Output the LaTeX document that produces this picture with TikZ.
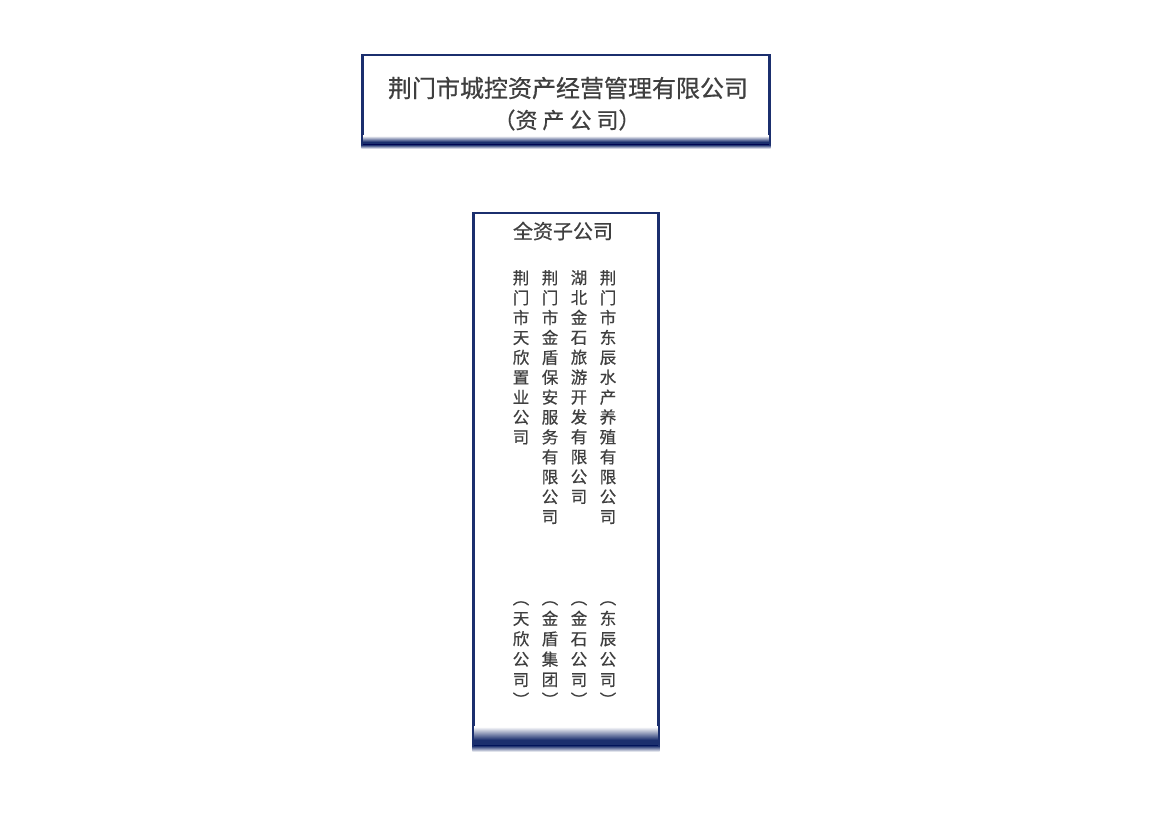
\documentclass[tikz,border=0pt]{standalone}
\usepackage{fontspec}
\newfontfamily\cjk[FakeBold=0.6]{Noto Sans CJK SC}
\usetikzlibrary{calc}
\definecolor{navy}{HTML}{1B2F6E}
\definecolor{txt}{HTML}{3F3F3F}
\tikzset{
  frame/.style={draw=navy, line width=1.6pt, fill=white, inner sep=0pt, rectangle},
  side/.style={draw=navy, line width=1.6pt},
  coltext/.style={font=\cjk\fontsize{16.5}{19.9}\selectfont, align=center, inner sep=0pt, text=txt, anchor=north},
  parcol/.style={coltext, font=\cjk\fontsize{16.5}{20.4}\selectfont},
  titletext/.style={inner sep=0pt, text=txt},
}
\newcommand{\bottomband}[4]{% node, fade-in height, solid height, fade-out height
  \shade[top color=white, bottom color=navy] ($(#1.south west)+(-0.8,-#2)$) rectangle ($(#1.south east)+(0.8,0)$);
  \fill[navy] ($(#1.south west)+(-0.8,0)$) rectangle ($(#1.south east)+(0.8,#3)$);
  \shade[top color=navy, bottom color=white] ($(#1.south west)+(-0.8,#3)$) rectangle ($(#1.south east)+(0.8,#3+#4)$);
  \draw[side] (#1.north west) -- ($(#1.south west)+(0,#3)$);
  \draw[side] (#1.north east) -- ($(#1.south east)+(0,#3)$);
}
\begin{document}
\begin{tikzpicture}[x=1pt,y=-1pt]
\useasboundingbox[fill=white] (0,0) rectangle (1155,812);
% top box
\node[frame, minimum width=406pt, minimum height=86pt] (b1) at (566,98) {};
\bottomband{b1}{6}{3}{4}
\node[titletext, font=\cjk\fontsize{24}{24}\selectfont] (t1) at (568,88) {荆门市城控资产经营管理有限公司};
\node[titletext, font=\cjk\fontsize{22}{22}\selectfont] (t2) at (567,120) {（资\hspace{5pt}产\hspace{5pt}公\hspace{5pt}司）};
% lower box
\node[frame, minimum width=184pt, minimum height=526pt] (b2) at (566,476) {};
\bottomband{b2}{13}{6}{6}
\node[titletext, font=\cjk\fontsize{20}{20}\selectfont] (t3) at (563,231) {全资子公司};
\node[coltext] (c1) at (521,270) {荆\\门\\市\\天\\欣\\置\\业\\公\\司};
\node[coltext] (c2) at (550,270) {荆\\门\\市\\金\\盾\\保\\安\\服\\务\\有\\限\\公\\司};
\node[coltext] (c3) at (579,270) {湖\\北\\金\\石\\旅\\游\\开\\发\\有\\限\\公\\司};
\node[coltext] (c4) at (608,270) {荆\\门\\市\\东\\辰\\水\\产\\养\\殖\\有\\限\\公\\司};
\node[parcol] (p1) at (521,601) {︵\\天\\欣\\公\\司\\︶};
\node[parcol] (p2) at (550,601) {︵\\金\\盾\\集\\团\\︶};
\node[parcol] (p3) at (579,601) {︵\\金\\石\\公\\司\\︶};
\node[parcol] (p4) at (608,601) {︵\\东\\辰\\公\\司\\︶};
\end{tikzpicture}
\end{document}
